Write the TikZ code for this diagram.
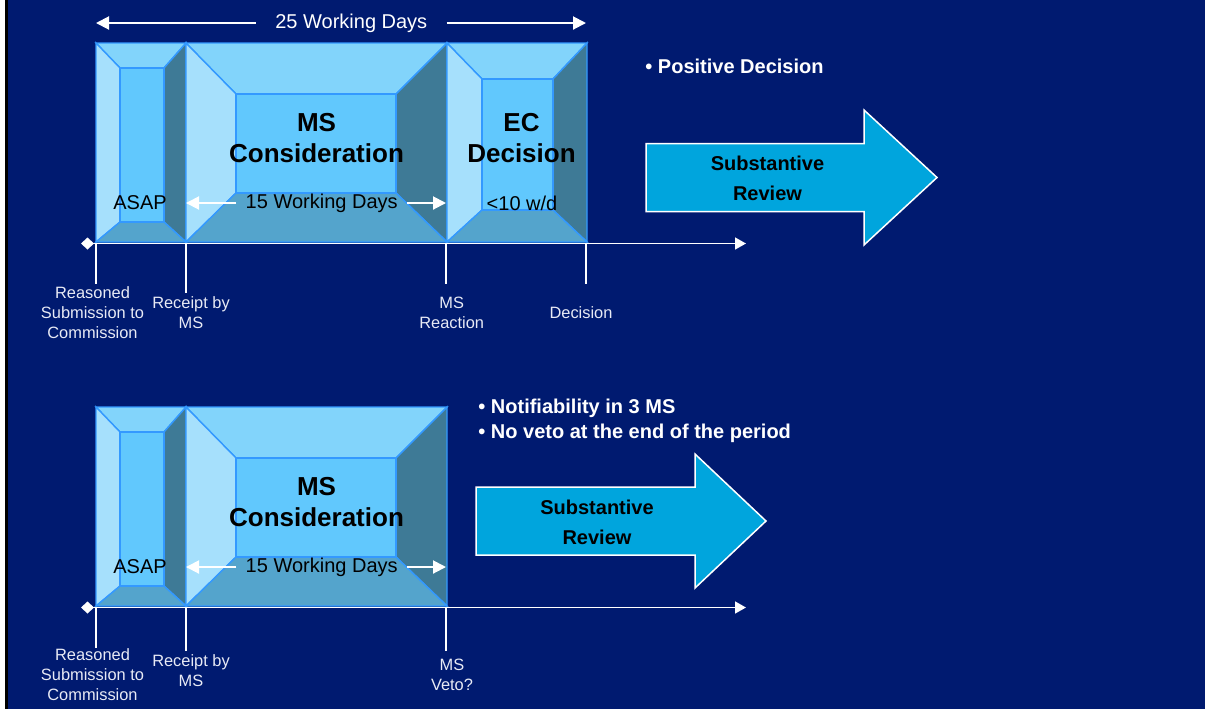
\documentclass[tikz,border=0pt]{standalone}
\usepackage{fontspec}
\setmainfont{Liberation Sans}
\usetikzlibrary{arrows.meta,calc}
\definecolor{slidebg}{RGB}{0,26,112}
\definecolor{edgecolor}{RGB}{51,153,255}
\definecolor{facetop}{RGB}{130,212,251}
\definecolor{faceleft}{RGB}{166,224,252}
\definecolor{faceright}{RGB}{62,122,150}
\definecolor{facebottom}{RGB}{84,164,204}
\definecolor{facefront}{RGB}{97,200,253}
\definecolor{reviewcolor}{RGB}{0,165,221}
\definecolor{ticklabelcolor}{RGB}{232,234,245}
\tikzset{
bevel/.style={
  draw=edgecolor,
  line width=0.7pt,
  line join=miter
},
blocktitle/.style={
  font=\bfseries\fontsize{13}{15.8}\selectfont,
  align=center,
  text=black
},
blocknote/.style={
  font=\fontsize{10}{12}\selectfont,
  text=black,
  inner ysep=0pt
},
daystext/.style={
  font=\fontsize{10}{12}\selectfont,
  text=white,
  inner ysep=0pt
},
ticklabel/.style={
  font=\fontsize{8.2}{10}\selectfont,
  text=ticklabelcolor,
  align=center
},
bullettext/.style={
  font=\bfseries\fontsize{10}{12.5}\selectfont,
  text=white,
  align=left,
  anchor=west,
  inner sep=0pt
},
reviewtext/.style={
  font=\bfseries\fontsize{10}{15}\selectfont,
  align=center,
  text=black
},
bigarrow/.style={
  fill=reviewcolor,
  draw=white,
  line width=0.75pt
},
timeline/.style={
  {Diamond[length=6.5pt,width=6pt]}-{Triangle[length=5.5pt,width=6pt]},
  draw=white,
  line width=0.75pt
},
tick/.style={
  draw=white,
  line width=0.75pt
},
daysarrow/.style={
  -{Triangle[length=6.5pt,width=6.5pt]},
  draw=white,
  line width=1pt
}
}
% outer NW, outer SE, inner NW, inner SE
\newcommand{\bevelbox}[4]{%
  \coordinate (oa) at (#1);
  \coordinate (ob) at (#2);
  \coordinate (ia) at (#3);
  \coordinate (ib) at (#4);
  \filldraw[bevel, fill=facetop] (oa) -- (oa -| ob) -- (ia -| ib) -- (ia) -- cycle;
  \filldraw[bevel, fill=faceleft] (oa) -- (ia) -- (ia |- ib) -- (oa |- ob) -- cycle;
  \filldraw[bevel, fill=faceright] (oa -| ob) -- (ob) -- (ib) -- (ia -| ib) -- cycle;
  \filldraw[bevel, fill=facebottom] (oa |- ob) -- (ia |- ib) -- (ib) -- (ob) -- cycle;
  \filldraw[bevel, fill=facefront] (ia) rectangle (ib);
}

\begin{document}
\begin{tikzpicture}[x=0.5pt, y=-0.5pt]
  \useasboundingbox (0,0) rectangle (1205,709);
  \fill[slidebg] (0,0) rectangle (1205,709);
  \fill[white] (0,0) rectangle (5,709);
  \fill[black] (5,0) rectangle (7.5,709);

  % Upper process: positive decision
  \bevelbox{96,43}{186,242}{120,68}{164,222}
  \bevelbox{186,43}{447,242}{236,94}{396,193}
  \bevelbox{447,43}{587,242}{482,79}{553,210}

  \coordinate (t1start) at (81,243.5);
  \coordinate (t1end) at (746,243.5);
  \coordinate (sub1) at (96,243.5);
  \coordinate (recv1) at (186,243.5);
  \coordinate (react1) at (446,243.5);
  \coordinate (dec1) at (586,243.5);
  \draw[timeline] (t1start) -- (t1end);
  \draw[tick] (sub1) -- ++(0,40.5);
  \draw[tick] (recv1) -- ++(0,49.5);
  \draw[tick] (react1) -- ++(0,40.5);
  \draw[tick] (dec1) -- ++(0,40.5);

  \node[ticklabel] (sublbl1) at (92.5,312.7) {Reasoned\\Submission to\\Commission};
  \node[ticklabel] (recvlbl1) at (191,312.4) {Receipt by\\MS};
  \node[ticklabel] (reactlbl1) at (451.7,312.4) {MS\\Reaction};
  \node[ticklabel] (declbl1) at (581,312.7) {Decision};

  \node[blocktitle] (mscons1) at (316.5,138) {MS\\Consideration};
  \node[blocktitle] (ecdec) at (521.5,138) {EC\\Decision};
  \node[blocknote] (asap1) at (140,203) {ASAP};
  \node[blocknote] (lt10) at (522,203) {<10 w/d};

  \node[daystext, inner xsep=9.5pt] (d25) at (351.3,23) {25 Working Days};
  \draw[daysarrow] (d25.west) -- (d25.west -| sub1);
  \draw[daysarrow] (d25.east) -- (d25.east -| dec1);

  \node[blocknote, inner xsep=4.5pt] (d15a) at (321.7,203) {15 Working Days};
  \draw[daysarrow] (d15a.west) -- (d15a.west -| recv1);
  \draw[daysarrow] (d15a.east) -- (d15a.east -| react1);

  \node[bullettext] (posdec) at (645,66) {• Positive Decision};
  \draw[bigarrow, shift={(646,177.5)}]
    (0,-34) -- (218,-34) -- (218,-67.5) -- (291,0) -- (218,67.5) -- (218,34) -- (0,34) -- cycle;
  \node[reviewtext] (review1) at (767.5,178) {Substantive\\Review};

  % Lower process: MS veto
  \bevelbox{96,407}{186,606}{120,432}{164,586}
  \bevelbox{186,407}{447,606}{236,458}{396,557}

  \coordinate (t2start) at (81,607.5);
  \coordinate (t2end) at (746,607.5);
  \coordinate (sub2) at (96,607.5);
  \coordinate (recv2) at (186,607.5);
  \coordinate (veto2) at (446,607.5);
  \draw[timeline] (t2start) -- (t2end);
  \draw[tick] (sub2) -- ++(0,40.5);
  \draw[tick] (recv2) -- ++(0,43);
  \draw[tick] (veto2) -- ++(0,43);

  \node[ticklabel] (sublbl2) at (92.5,674.5) {Reasoned\\Submission to\\Commission};
  \node[ticklabel] (recvlbl2) at (191,671) {Receipt by\\MS};
  \node[ticklabel] (vetolbl2) at (452,674.5) {MS\\Veto?};

  \node[blocktitle] (mscons2) at (316.5,502) {MS\\Consideration};
  \node[blocknote] (asap2) at (140,567) {ASAP};

  \node[blocknote, inner xsep=4.5pt] (d15b) at (321.7,567) {15 Working Days};
  \draw[daysarrow] (d15b.west) -- (d15b.west -| recv2);
  \draw[daysarrow] (d15b.east) -- (d15b.east -| veto2);

  \node[bullettext] (notif) at (478,421) {• Notifiability in 3 MS\\• No veto at the end of the period};
  \draw[bigarrow, shift={(476,521)}]
    (0,-34) -- (219,-34) -- (219,-67) -- (290,0) -- (219,67) -- (219,34) -- (0,34) -- cycle;
  \node[reviewtext] (review2) at (597,522) {Substantive\\Review};
\end{tikzpicture}
\end{document}
